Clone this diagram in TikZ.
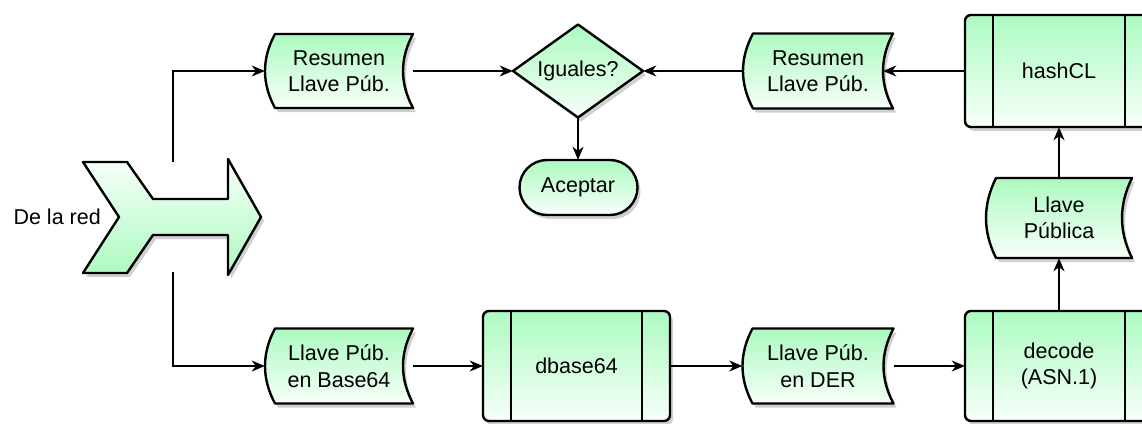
\documentclass[tikz,border=0pt]{standalone}
\usepackage{fontspec}
\setmainfont{Liberation Sans}
\usetikzlibrary{arrows.meta}

\definecolor{boxgreen}{RGB}{172,250,192}
\definecolor{boxwhite}{RGB}{247,255,249}
\definecolor{shadowgray}{RGB}{208,208,208}

\tikzset{
  outline/.style={draw=black, line width=2.4pt, line join=round},
  greenfade/.style={top color=boxgreen, bottom color=boxwhite},
  greenrise/.style={top color=boxwhite, bottom color=boxgreen},
  dropshadow/.style={fill=shadowgray},
  boxtext/.style={align=center, font=\fontsize{21.5}{26.5}\selectfont, inner sep=0pt},
  flow/.style={line width=1.4pt, -{Stealth[length=13pt,width=11pt,inset=4pt]}},
}

% storage symbol: convex left side, concave right side
\newcommand\storagepath{({-\sa+10},{-\sb}) -- ({\sa},{-\sb})
  .. controls ({\sa-13.33},{-\sb/3}) and ({\sa-13.33},{\sb/3}) .. ({\sa},{\sb})
  -- ({-\sa+10},{\sb})
  .. controls ({-\sa-3.33},{\sb/3}) and ({-\sa-3.33},{-\sb/3}) .. cycle}

% #1 name, #2 x, #3 y, #4 width, #5 height, #6 text
\newcommand\storebox[6]{%
  \begin{scope}[shift={(#2,#3)}]
    \pgfmathsetmacro\sa{#4/2}\pgfmathsetmacro\sb{#5/2}
    \fill[dropshadow, shift={(3,4)}] \storagepath;
    \shade[greenfade] \storagepath;
    \draw[outline] \storagepath;
    \node[boxtext, minimum width=#4, minimum height=#5] (#1) at (0,0) {#6};
  \end{scope}}

% predefined process: rounded box with two inner bars
\newcommand\procbox[6]{%
  \begin{scope}[shift={(#2,#3)}]
    \pgfmathsetmacro\sa{#4/2}\pgfmathsetmacro\sb{#5/2}
    \fill[dropshadow, rounded corners=6] ({-\sa+3},{-\sb+4}) rectangle ({\sa+3},{\sb+4});
    \shade[greenfade, rounded corners=6] ({-\sa},{-\sb}) rectangle ({\sa},{\sb});
    \draw[outline, rounded corners=6] ({-\sa},{-\sb}) rectangle ({\sa},{\sb});
    \draw[outline] ({-\sa+28},{-\sb}) -- ({-\sa+28},{\sb})
                   ({\sa-28},{-\sb}) -- ({\sa-28},{\sb});
    \node[boxtext, minimum width=#4, minimum height=#5] (#1) at (0,0) {#6};
  \end{scope}}

\begin{document}
\begin{tikzpicture}[x=1pt, y=-1pt]
  \useasboundingbox (0,0) rectangle (1142,423);
  \clip (0,0) rectangle (1142,423);

  % incoming chevron
  \fill[dropshadow, shift={(3,4)}] (83,162) -- (127,162) -- (153,199) -- (228,199) -- (228,159)
    -- (261,217) -- (228,275) -- (228,235) -- (153,235) -- (127,273) -- (83,273) -- (119,217) -- cycle;
  \shade[greenrise] (83,162) -- (127,162) -- (153,199) -- (228,199) -- (228,159)
    -- (261,217) -- (228,275) -- (228,235) -- (153,235) -- (127,273) -- (83,273) -- (119,217) -- cycle;
  \draw[outline] (83,162) -- (127,162) -- (153,199) -- (228,199) -- (228,159)
    -- (261,217) -- (228,275) -- (228,235) -- (153,235) -- (127,273) -- (83,273) -- (119,217) -- cycle;
  \node[minimum width=178, minimum height=110, inner sep=0pt] (chev) at (173,217) {};
  \node[boxtext, anchor=east] (src) at (101,217) {De la red};

  % storage items
  \storebox{r1}{339}{71}{148}{74}{Resumen\\Llave Púb.}
  \storebox{r2}{818}{71}{150}{75}{Resumen\\Llave Púb.}
  \storebox{b64}{339}{366}{148}{75}{Llave Púb.\\en Base64}
  \storebox{der}{818}{366}{151}{75}{Llave Púb.\\en DER}
  \storebox{lp}{1059}{218}{146}{80}{Llave\\Pública}

  % processes
  \procbox{db}{576.5}{366}{187}{110}{dbase64}
  \procbox{hash}{1059}{71}{188}{112}{hashCL}
  \procbox{dec}{1059}{366}{188}{110}{decode\\(ASN.1)}

  % decision
  \fill[dropshadow, shift={(3,4)}] (513,71) -- (578,24.5) -- (643,71) -- (578,117.5) -- cycle;
  \shade[greenfade] (513,71) -- (578,24.5) -- (643,71) -- (578,117.5) -- cycle;
  \draw[outline] (513,71) -- (578,24.5) -- (643,71) -- (578,117.5) -- cycle;
  \node[boxtext, minimum width=130, minimum height=93] (dia) at (578,71) {Iguales?};

  % terminal
  \fill[dropshadow, rounded corners=27.5] (522.5,164) rectangle (640.5,219);
  \shade[greenfade, rounded corners=27.5] (519.5,160) rectangle (637.5,215);
  \draw[outline, rounded corners=27.5] (519.5,160) rectangle (637.5,215);
  \node[boxtext, minimum width=118, minimum height=55] (acc) at (578,187.5) {Aceptar};

  % connectors
  \draw[flow] (chev.north) |- (r1.west);
  \draw[flow] (chev.south) |- (b64.west);
  \draw[flow] (r1.east) -- (dia.west);
  \draw[flow] (r2.west) -- (dia.east);
  \draw[flow] (hash.west) -- ([xshift=-10pt]r2.east);
  \draw[flow] (dia.south) -- (acc.north);
  \draw[flow] (lp.north) -- (hash.south);
  \draw[flow] (dec.north) -- (lp.south);
  \draw[flow] (b64.east) -- (db.west);
  \draw[flow] (db.east) -- (der.west);
  \draw[flow] (der.east) -- (dec.west);
\end{tikzpicture}
\end{document}
